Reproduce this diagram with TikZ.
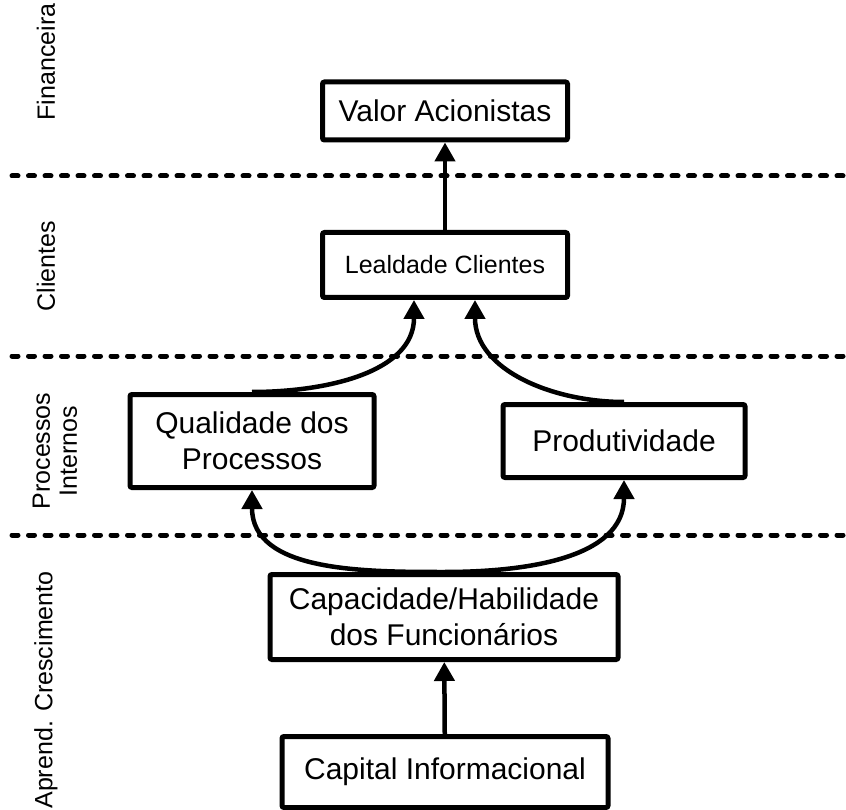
\documentclass[tikz,border=0pt]{standalone}
\usepackage{fontspec}
\setmainfont{Liberation Sans}
\usetikzlibrary{arrows.meta}
\begin{document}
\begin{tikzpicture}[x=1pt,y=-1pt,
		caixa/.style={draw,line width=5pt,rounded corners=2pt,align=center,inner sep=0pt,font=\fontsize{30}{36}\selectfont},
		seta/.style={line width=4.5pt,-{Triangle[length=19pt,width=20pt]}},
		divisa/.style={line width=5pt,line cap=round,dash pattern=on 6pt off 10.5pt},
		rotulo/.style={rotate=90,align=center,font=\fontsize{25}{27}\selectfont}]
			\useasboundingbox (0,0) rectangle (846,810);
			\draw[divisa] (12,176) -- (846,176);
			\draw[divisa] (12,356) -- (846,356);
			\draw[divisa] (12,535) -- (846,535);
			\node[rotulo] (lfin) at (46,62) {Financeira};
			\node[rotulo] (lcli) at (46,266) {Clientes};
			\node[rotulo] (lproc) at (55,451) {Processos\\Internos};
			\node[rotulo] (lapr) at (46,690) {Aprend. Crescimento};
			\node[caixa,minimum width=245,minimum height=58] (valor) at (445,111) {Valor Acionistas};
			\node[caixa,minimum width=245,minimum height=65,font=\fontsize{25}{30}\selectfont] (leal) at (445,265) {Lealdade Clientes};
			\node[caixa,minimum width=244,minimum height=93] (qual) at (252,441) {Qualidade dos\\Processos};
			\node[caixa,minimum width=242,minimum height=73] (prod) at (624,441) {Produtividade};
			\node[caixa,minimum width=348,minimum height=85] (capac) at (444,617) {Capacidade/Habilidade\\dos Funcionários};
			\node[caixa,minimum width=326,minimum height=71] (capit) at (445,772) {Capital Informacional};
			\draw[seta] (leal) -- (valor);
			\draw[seta] (capit) -- (capac);
			\draw[seta] (qual.north) to[out=0,in=-90] ([xshift=-31pt]leal.south);
			\draw[seta] (prod.north) to[out=180,in=-90] ([xshift=30pt]leal.south);
			\draw[seta] (capac.north) to[out=180,in=-90] (qual.south);
			\draw[seta] (capac.north) to[out=0,in=-90] (prod.south);
		\end{tikzpicture}
\end{document}
